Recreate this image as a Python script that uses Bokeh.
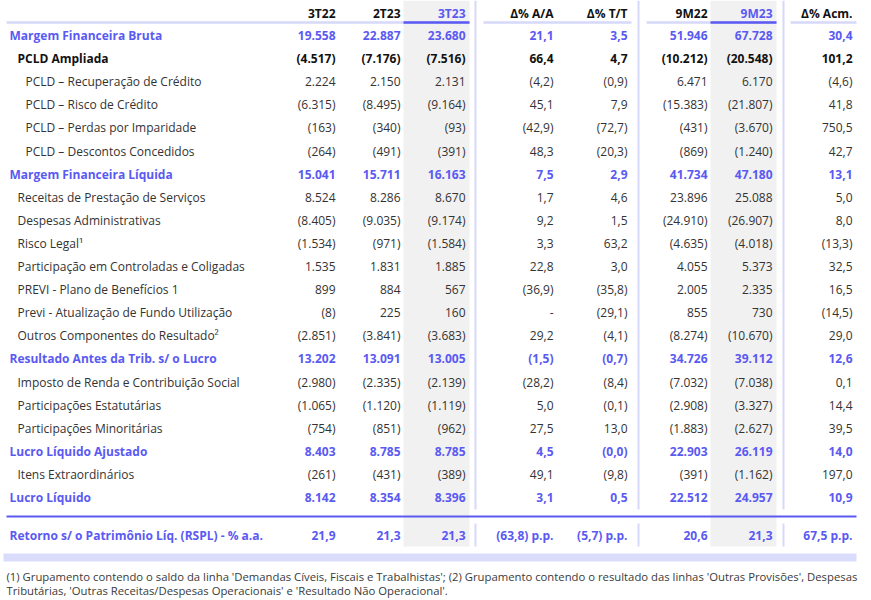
import math
from bokeh.plotting import figure
from bokeh.models import ColumnDataSource, Range1d
from bokeh.core.properties import value
from bokeh.embed import file_html
from bokeh.resources import INLINE

# ---------------- data ----------------
headers = ["3T22", "2T23", "3T23", "Δ% A/A", "Δ% T/T", "9M22", "9M23", "Δ% Acm."]

labels = [
    "Margem Financeira Bruta",
    "PCLD Ampliada",
    "PCLD – Recuperação de Crédito",
    "PCLD – Risco de Crédito",
    "PCLD – Perdas por Imparidade",
    "PCLD – Descontos Concedidos",
    "Margem Financeira Líquida",
    "Receitas de Prestação de Serviços",
    "Despesas Administrativas",
    "Risco Legal¹",
    "Participação em Controladas e Coligadas",
    "PREVI - Plano de Benefícios 1",
    "Previ - Atualização de Fundo Utilização",
    "Outros Componentes do Resultado²",
    "Resultado Antes da Trib. s/ o Lucro",
    "Imposto de Renda e Contribuição Social",
    "Participações Estatutárias",
    "Participações Minoritárias",
    "Lucro Líquido Ajustado",
    "Itens Extraordinários",
    "Lucro Líquido",
]
row_kind = ["total", "sub", "item2", "item2", "item2", "item2", "total",
            "item", "item", "item", "item", "item", "item", "item", "total",
            "item", "item", "item", "total", "item", "total"]

v_3t22 = [19558, -4517, 2224, -6315, -163, -264, 15041, 8524, -8405, -1534, 1535,
          899, -8, -2851, 13202, -2980, -1065, -754, 8403, -261, 8142]
v_2t23 = [22887, -7176, 2150, -8495, -340, -491, 15711, 8286, -9035, -971, 1831,
          884, 225, -3841, 13091, -2335, -1120, -851, 8785, -431, 8354]
v_3t23 = [23680, -7516, 2131, -9164, -93, -391, 16163, 8670, -9174, -1584, 1885,
          567, 160, -3683, 13005, -2139, -1119, -962, 8785, -389, 8396]
d_aa = [21.1, 66.4, -4.2, 45.1, -42.9, 48.3, 7.5, 1.7, 9.2, 3.3, 22.8,
        -36.9, None, 29.2, -1.5, -28.2, 5.0, 27.5, 4.5, 49.1, 3.1]
d_tt = [3.5, 4.7, -0.9, 7.9, -72.7, -20.3, 2.9, 4.6, 1.5, 63.2, 3.0,
        -35.8, -29.1, -4.1, -0.7, -8.4, -0.1, 13.0, -0.0, -9.8, 0.5]
v_9m22 = [51946, -10212, 6471, -15383, -431, -869, 41734, 23896, -24910, -4635, 4055,
          2005, 855, -8274, 34726, -7032, -2908, -1883, 22903, -391, 22512]
v_9m23 = [67728, -20548, 6170, -21807, -3670, -1240, 47180, 25088, -26907, -4018, 5373,
          2335, 730, -10670, 39112, -7038, -3327, -2627, 26119, -1162, 24957]
d_acm = [30.4, 101.2, -4.6, 41.8, 750.5, 42.7, 13.1, 5.0, 8.0, -13.3, 32.5,
         16.5, -14.5, 29.0, 12.6, 0.1, 14.4, 39.5, 14.0, 197.0, 10.9]

rspl_label = "Retorno s/ o Patrimônio Líq. (RSPL) - % a.a."
rspl_values = [21.9, 21.3, 21.3, -63.8, -5.7, 20.6, 21.3, 67.5]
rspl_is_pp = [False, False, False, True, True, False, False, True]

footnote_1 = ("(1) Grupamento contendo o saldo da linha 'Demandas Cíveis, Fiscais e Trabalhistas'; "
              "(2) Grupamento contendo o resultado das linhas 'Outras Provisões', Despesas")
footnote_2 = "Tributárias, 'Outras Receitas/Despesas Operacionais' e 'Resultado Não Operacional'."

# ---------------- formatting ----------------
def is_neg(v):
    return v < 0 or (v == 0 and math.copysign(1.0, v) < 0)

def fmt_int(v):
    if v is None:
        return "-"
    s = f"{abs(v):,}".replace(",", ".")
    return f"({s})" if is_neg(v) else s

def fmt_pct(v):
    if v is None:
        return "-"
    s = f"{abs(v):.1f}".replace(".", ",")
    return f"({s})" if is_neg(v) else s

columns = [(v_3t22, fmt_int), (v_2t23, fmt_int), (v_3t23, fmt_int), (d_aa, fmt_pct),
           (d_tt, fmt_pct), (v_9m22, fmt_int), (v_9m23, fmt_int), (d_acm, fmt_pct)]

# ---------------- layout ----------------
FONT = value("Open Sans")
BLUE = "#5A5AF2"
LAV = "#D6D9FA"
TXT = "#333333"
W, H = 871, 600
col_right = [335, 400, 465, 553, 627, 707, 772, 852]
gray_cols = [(403, 469), (710, 776)]
y0, dy = 35, 23.1
row_y = [y0 + i * dy for i in range(len(labels))]
header_y = 13
rspl_y = 535
indent = {"total": 9, "sub": 17, "item": 17, "item2": 25}

p = figure(width=W, height=H, output_backend="svg", toolbar_location=None,
           x_range=Range1d(0, W), y_range=Range1d(H, 0), min_border=0)
p.xaxis.visible = False
p.yaxis.visible = False
p.grid.visible = False
p.outline_line_color = None
p.background_fill_color = "white"
p.border_fill_color = "white"

# gray shaded columns
p.quad(left=[g[0] for g in gray_cols], right=[g[1] for g in gray_cols],
       top=[0, 0], bottom=[546, 546], fill_color="#F1F1F1", line_color=None)

# header underlines
seg_x0 = [6, 483, 646, 790]
seg_x1 = [469, 631, 776, 856]
p.segment(x0=seg_x0, y0=[22] * 4, x1=seg_x1, y1=[22] * 4, line_color=LAV, line_width=2.5)
p.segment(x0=[g[0] for g in gray_cols], y0=[22, 22], x1=[g[1] for g in gray_cols],
          y1=[22, 22], line_color=BLUE, line_width=2.5)

# vertical separators
sep_x = [475, 638, 783]
p.segment(x0=sep_x, y0=[0] * 3, x1=sep_x, y1=[509] * 3, line_color=LAV, line_width=2)
p.segment(x0=sep_x, y0=[523] * 3, x1=sep_x, y1=[546] * 3, line_color=LAV, line_width=2)

# blue line before RSPL and bottom band
p.segment(x0=[6], y0=[516], x1=[856], y1=[516], line_color=BLUE, line_width=2)
p.quad(left=[3], right=[856], top=[553], bottom=[561], fill_color="#D9DCFB", line_color=None)

# header texts
hdr_colors = ["#111111", "#111111", BLUE, "#111111", "#111111", "#111111", BLUE, "#111111"]
p.text(x=col_right, y=[header_y] * 8, text=headers, text_color=hdr_colors,
       text_font=FONT, text_font_size="12px", text_font_style="bold",
       text_align="right", text_baseline="middle")

def style_for(kind):
    if kind == "total":
        return BLUE, "bold"
    if kind == "sub":
        return "#111111", "bold"
    return TXT, "normal"

# row labels
lab_src = ColumnDataSource(dict(
    x=[indent[k] for k in row_kind], y=row_y, text=labels,
    color=[style_for(k)[0] for k in row_kind],
    style=[style_for(k)[1] for k in row_kind]))
p.text(x="x", y="y", text="text", source=lab_src, text_color="color",
       text_font_style="style", text_font=FONT, text_font_size="12px",
       text_align="left", text_baseline="middle")

# values
vx, vy, vt, vc, vs = [], [], [], [], []
for ci, (vals, fmt) in enumerate(columns):
    for ri, v in enumerate(vals):
        c, s = style_for(row_kind[ri])
        vx.append(col_right[ci]); vy.append(row_y[ri]); vt.append(fmt(v))
        vc.append(c); vs.append(s)
val_src = ColumnDataSource(dict(x=vx, y=vy, text=vt, color=vc, style=vs))
p.text(x="x", y="y", text="text", source=val_src, text_color="color",
       text_font_style="style", text_font=FONT, text_font_size="12px",
       text_align="right", text_baseline="middle")

# RSPL row
p.text(x=[9], y=[rspl_y], text=[rspl_label], text_color=BLUE, text_font=FONT,
       text_font_size="12px", text_font_style="bold", text_align="left",
       text_baseline="middle")
rspl_txt = [fmt_pct(v) + (" p.p." if pp else "") for v, pp in zip(rspl_values, rspl_is_pp)]
p.text(x=col_right, y=[rspl_y] * 8, text=rspl_txt, text_color=BLUE, text_font=FONT,
       text_font_size="12px", text_font_style="bold", text_align="right",
       text_baseline="middle")

# footnotes
p.text(x=[6, 6], y=[576, 590], text=[footnote_1, footnote_2], text_color="#3a3a3a",
       text_font=FONT, text_font_size="11.3px", text_align="left", text_baseline="middle")

open("out.html", "w").write(file_html(p, INLINE))
